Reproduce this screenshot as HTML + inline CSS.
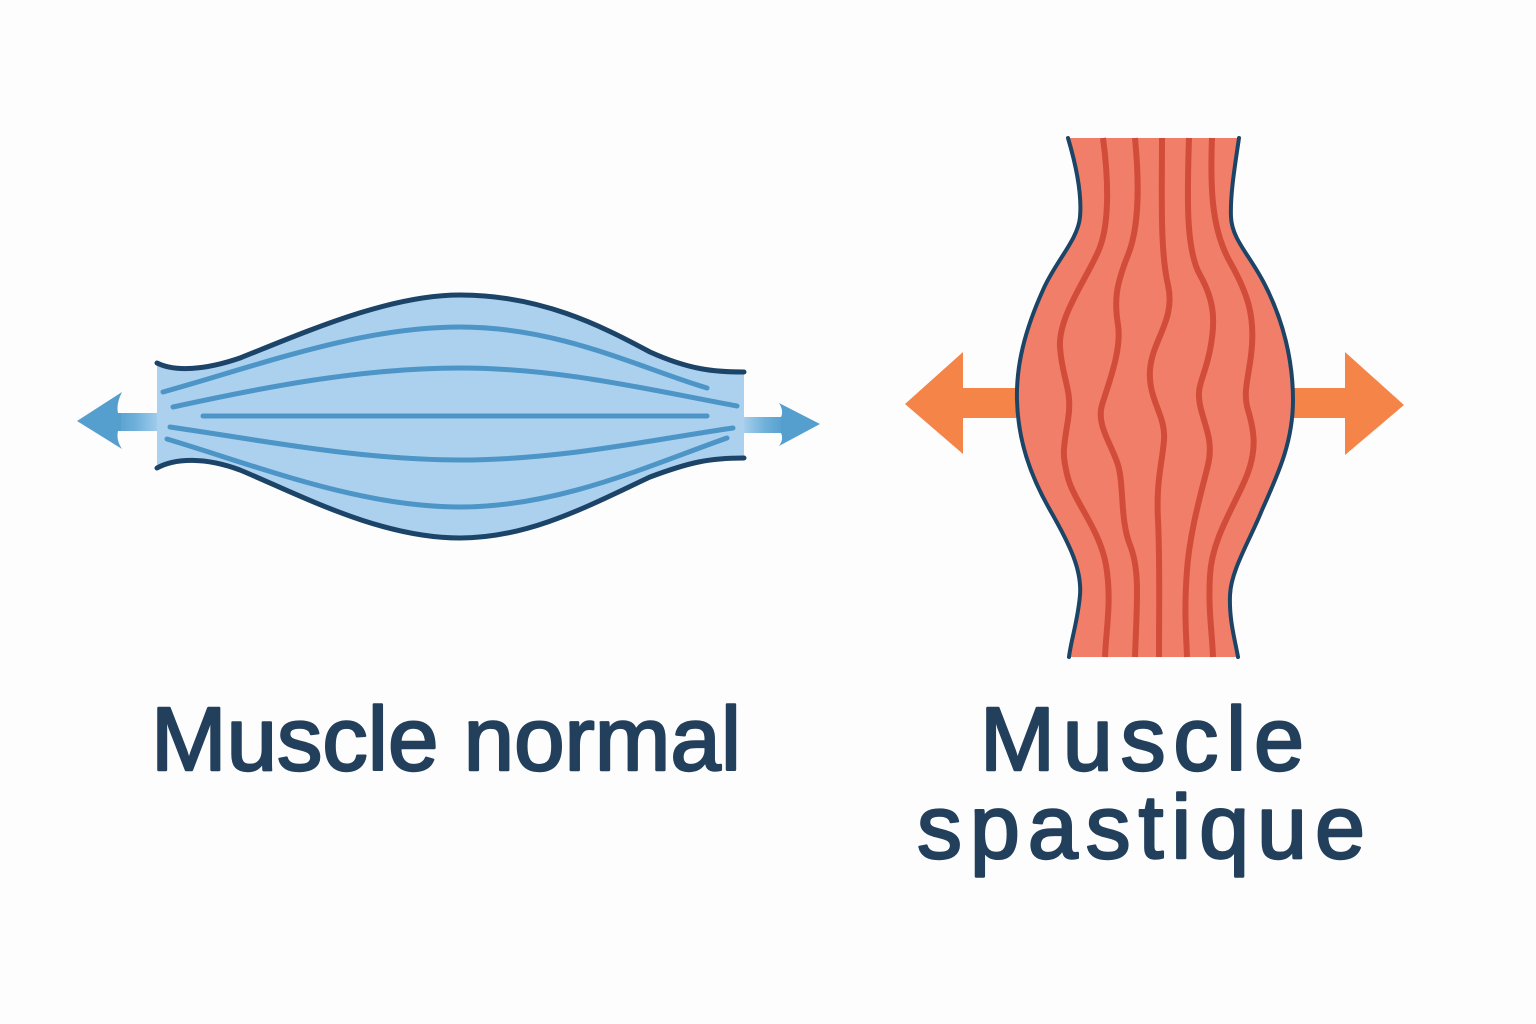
<!DOCTYPE html>
<html>
<head>
<meta charset="utf-8">
<style>
html,body{margin:0;padding:0;background:#fdfdfd;}
svg{display:block;}
</style>
</head>
<body>
<svg width="1536" height="1024" viewBox="0 0 1536 1024" xmlns="http://www.w3.org/2000/svg">
<defs>
<linearGradient id="gl" x1="114" y1="0" x2="162" y2="0" gradientUnits="userSpaceOnUse">
<stop offset="0" stop-color="#559fcf"/>
<stop offset="0.45" stop-color="#6eb0da"/>
<stop offset="1" stop-color="#abd1ef"/>
</linearGradient>
<linearGradient id="gr" x1="742" y1="0" x2="784" y2="0" gradientUnits="userSpaceOnUse">
<stop offset="0" stop-color="#abd1ef"/>
<stop offset="0.55" stop-color="#6eb0da"/>
<stop offset="1" stop-color="#559fcf"/>
</linearGradient>
</defs>
<rect width="1536" height="1024" fill="#fdfdfd"/>

<!-- Blue muscle arrows -->
<rect x="116" y="413" width="46" height="18" fill="url(#gl)"/>
<path d="M77,421 L122,392 Q116,404 118,413 L121,413 L121,431 L118,431 Q116,440 122,449 Z" fill="#559fcf"/>
<rect x="740" y="417" width="44" height="16" fill="url(#gr)"/>
<path d="M820,424 L779,403 Q784,411 781,417 L781,433 Q784,439 779,446 Z" fill="#559fcf"/>

<!-- Blue body -->
<path d="M157,363 C175,372 205,370 240,358 C310,330 390,295 460,295 C540,295 600,325 650,352 C690,370 715,372 744,372 L744,458 C710,458 690,462 650,477 C590,505 530,538 460,538 C380,538 300,495 240,470 C205,457 175,458 157,468 Z" fill="#abd1ef"/>

<!-- Blue fibers -->
<g fill="none" stroke="#4c95c6" stroke-width="5" stroke-linecap="round">
<path d="M163,392 C260,365 360,327 460,327 C560,327 640,368 707,388"/>
<path d="M173,407 C260,388 360,368 460,368 C560,368 650,390 737,406"/>
<path d="M203,416 L707,416"/>
<path d="M170,427 C260,440 360,460 460,460 C560,460 650,440 733,428"/>
<path d="M167,439 C260,467 360,507 460,507 C560,507 650,465 727,438"/>
</g>

<!-- Blue outline -->
<g fill="none" stroke="#1c4468" stroke-width="5" stroke-linecap="round">
<path d="M157,363 C175,372 205,370 240,358 C310,330 390,295 460,295 C540,295 600,325 650,352 C690,370 715,372 744,372"/>
<path d="M157,468 C175,458 205,457 240,470 C300,495 380,538 460,538 C530,538 590,505 650,477 C690,462 710,458 744,458"/>
</g>

<!-- Orange arrows -->
<path d="M905,404 L963,352 L963,388 L1025,388 L1025,418 L963,418 L963,454 Z" fill="#f58448"/>
<path d="M1404,405 L1345,352 L1345,388 L1285,388 L1285,418 L1345,418 L1345,455 Z" fill="#f58448"/>

<!-- Orange body -->
<path d="M1068,138 C1076,165 1082,195 1080,217 C1078,240 1055,262 1043,290 C1025,330 1016,365 1017,400 C1018,440 1030,475 1050,510 C1070,545 1082,570 1080,595 C1078,620 1071,640 1069,657 L1238,657 C1235,640 1229,620 1230,595 C1231,570 1250,540 1262,510 C1280,470 1293,440 1293,400 C1293,360 1283,320 1265,285 C1250,255 1232,240 1231,217 C1230,195 1235,165 1239,138 Z" fill="#f17e68"/>

<!-- Orange fibers -->
<g fill="none" stroke="#d24d39" stroke-width="6" stroke-linecap="butt">
<path d="M1103,138 C1108,175 1110,220 1100,247 S1058,315 1060,347 S1073,390 1068,420 S1062,455 1068,478 S1100,530 1106,565 S1106,630 1105,657"/>
<path d="M1135,138 C1139,180 1140,225 1128,255 S1114,300 1118,325 S1108,385 1102,405 S1112,445 1118,465 S1120,520 1130,545 S1137,600 1135,657"/>
<path d="M1162,138 C1162,200 1160,250 1168,285 S1152,340 1150,370 S1166,415 1164,440 S1156,480 1158,520 S1159,600 1159,657"/>
<path d="M1189,138 C1187,200 1186,250 1200,275 S1216,320 1210,350 S1196,385 1200,405 S1214,440 1208,465 S1190,530 1187,570 S1186,630 1187,657"/>
<path d="M1212,138 C1210,190 1212,230 1230,262 S1254,315 1252,345 S1242,390 1248,410 S1258,450 1245,480 S1212,540 1210,575 S1212,630 1213,657"/>
</g>

<!-- Orange outline -->
<g fill="none" stroke="#1c4466" stroke-width="4" stroke-linecap="round">
<path d="M1068,138 C1076,165 1082,195 1080,217 C1078,240 1055,262 1043,290 C1025,330 1016,365 1017,400 C1018,440 1030,475 1050,510 C1070,545 1082,570 1080,595 C1078,620 1071,640 1069,657"/>
<path d="M1239,138 C1235,165 1230,195 1231,217 C1232,240 1250,255 1265,285 C1283,320 1293,360 1293,400 C1293,440 1280,470 1262,510 C1250,540 1231,570 1230,595 C1229,620 1235,640 1238,657"/>
</g>

<!-- Labels -->
<g font-family="'Liberation Sans', 'DejaVu Sans', sans-serif" font-size="90" fill="#223f5c" stroke="#223f5c" stroke-width="2.4" stroke-linejoin="round">
<text x="151" y="770" textLength="590" lengthAdjust="spacingAndGlyphs">Muscle normal</text>
<text x="980" y="770" textLength="324" lengthAdjust="spacing">Muscle</text>
<text x="917" y="858" textLength="448" lengthAdjust="spacing">spastique</text>
</g>
</svg>
</body>
</html>
